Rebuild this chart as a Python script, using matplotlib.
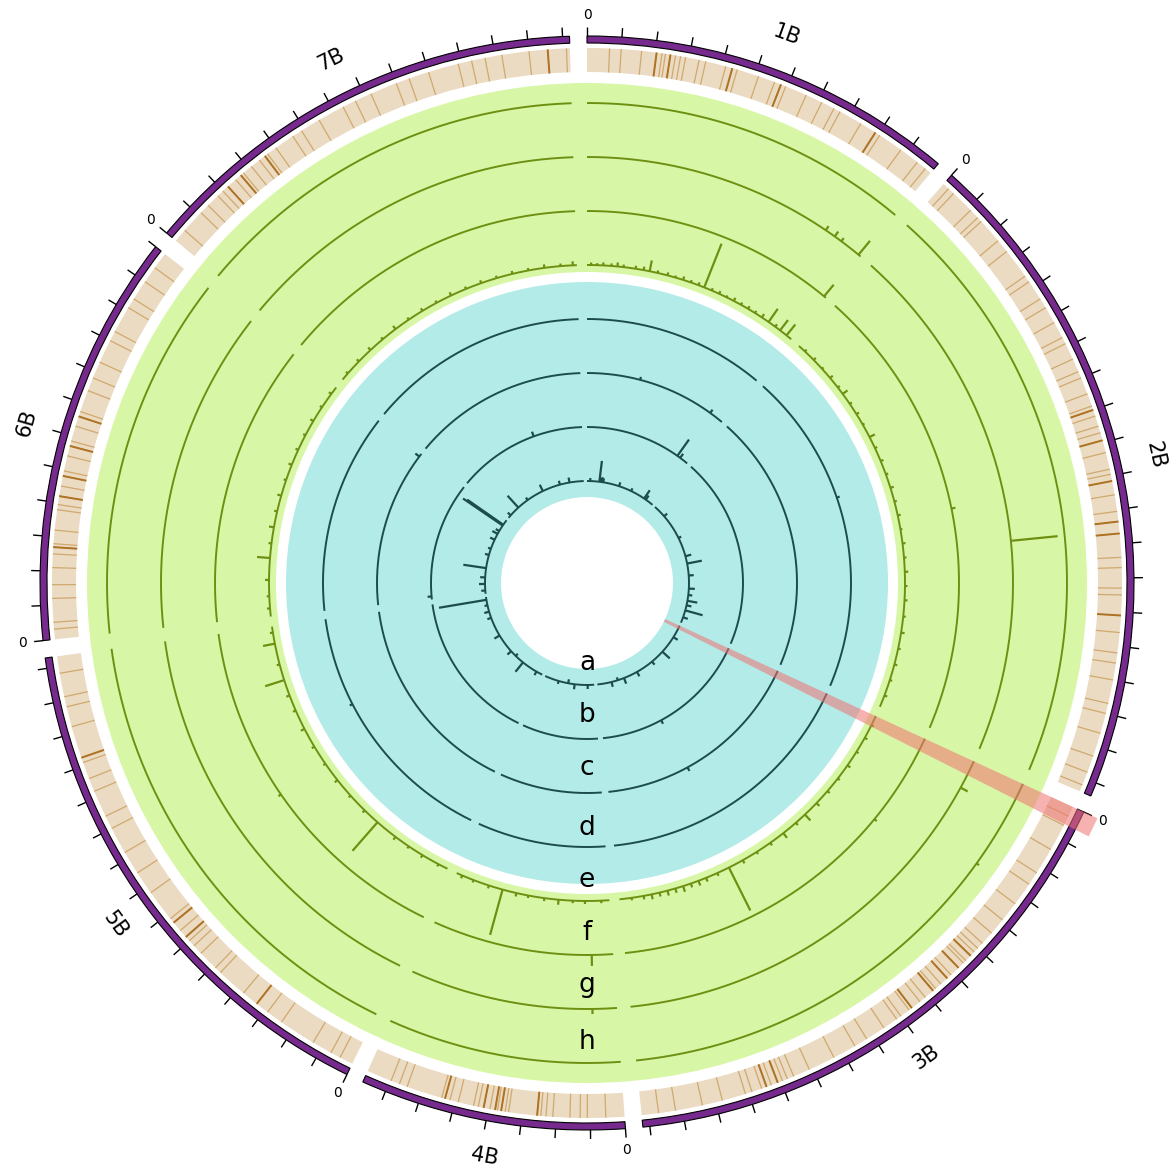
import numpy as np
import matplotlib
matplotlib.use('Agg')
import matplotlib.pyplot as plt

# chromosomes (map length, cM) drawn clockwise from the top
chroms = ['1B', '2B', '3B', '4B', '5B', '6B', '7B']
lengths = [109, 194, 162, 77, 153, 120, 132]
GAP = 5

# marker positions shown in the outer (tan) heat band
band_marks = {
    '1B': [6.6, 10, 16, 20.4, 22, 23, 24.5, 26, 27.5, 29, 33, 35, 41, 43, 44.5, 51,
           56, 58, 59.5, 66, 71, 75, 77, 84, 89, 90.5, 98, 104, 107],
    '2B': [2, 4, 11, 14, 15.5, 23, 27, 36, 38, 44, 47, 52, 57, 59, 64, 68, 70, 75,
           78.8, 80, 81.9, 85, 87, 89.3, 93, 98, 99.5, 101.5, 105.6, 110.5, 113.5,
           117, 124, 127, 133, 135, 141, 146, 152, 155, 160, 167, 170, 176, 183, 188, 192],
    '3B': [3, 6, 14, 22, 26, 33, 39, 44, 48, 50, 51.5, 53, 55, 56, 58, 61, 62.5, 65,
           67, 68, 71, 73, 76, 77, 80, 81.5, 86, 92, 96, 103, 111, 116, 118, 119.5,
           121, 123, 124.5, 126, 129, 131, 138, 144, 152, 157],
    '4B': [5.5, 10.9, 13, 16, 21, 23, 24.5, 25.6, 34, 35, 36.2, 37.3, 38, 39.5, 41.4,
           43, 44.4, 49, 51.5, 53, 54, 64.6, 67, 69.6],
    '5B': [4, 7, 13, 24, 29, 33, 38, 47, 49, 55, 58, 60, 61.5, 64, 67, 68.5, 78, 85,
           92, 100, 104, 112, 116, 121, 122.5, 132, 138, 141, 148],
    '6B': [3, 5, 12, 16, 21, 25, 27, 28, 32, 38, 39.5, 42, 45, 48, 49.5, 54, 57, 58.5,
           63, 66, 67.5, 74, 78, 83, 90, 93, 101, 104, 110, 115],
    '7B': [4, 11, 14, 18, 20, 22, 25, 27, 28, 31, 34, 36, 37, 40, 46, 49, 55, 63, 67,
           72, 80, 84, 90, 99, 103, 107, 112, 120, 125.5, 131],
}
band_strong = {
    '1B': [20.4, 24.5, 43, 58, 89],
    '2B': [80, 89.3, 101.5, 113.5, 117, 141],
    '3B': [53, 58, 62.5, 68, 76, 121, 124.5],
    '4B': [25.6, 36.2, 38, 41.4, 53],
    '5B': [33, 61.5, 67, 122.5],
    '6B': [27, 42, 48, 57, 66],
    '7B': [22, 27, 36, 125.5],
}

# track values (chromosome, position, score 0-1); a-d inner blue, e-h outer green
track_a = [('1B', 5, 0.06), ('1B', 19, 0.42), ('1B', 21, 0.08), ('1B', 23, 0.1), ('1B', 25, 0.08),
           ('1B', 50, 0.08), ('1B', 70, 0.06), ('1B', 93, 0.2), ('1B', 96, 0.1),
           ('2B', 20, 0.08), ('2B', 60, 0.06), ('2B', 90, 0.12), ('2B', 101.5, 0.3),
           ('2B', 120, 0.1), ('2B', 140, 0.12), ('2B', 150, 0.08), ('2B', 159, 0.2),
           ('2B', 166, 0.1), ('2B', 174, 0.36), ('2B', 185, 0.1),
           ('3B', 20, 0.1), ('3B', 48, 0.2), ('3B', 70, 0.08), ('3B', 98, 0.1),
           ('3B', 120, 0.12), ('3B', 130, -0.06), ('3B', 140, 0.1),
           ('4B', 10, 0.08), ('4B', 30, 0.1), ('4B', 40, -0.08), ('4B', 55, 0.06),
           ('5B', 10, 0.08), ('5B', 35, 0.24), ('5B', 50, -0.06), ('5B', 60, 0.1),
           ('5B', 90, 0.12), ('5B', 120, 0.08), ('5B', 130, 0.1), ('5B', 140, 0.06),
           ('5B', 148.6, 0.96),
           ('6B', 5, 0.08), ('6B', 15, 0.12), ('6B', 25, 0.1), ('6B', 39.4, 0.46),
           ('6B', 60, 0.08), ('6B', 70, 0.06), ('6B', 85, 0.1), ('6B', 95, 0.12),
           ('6B', 100, 0.08), ('6B', 110, 0.96), ('6B', 111.5, 0.88),
           ('7B', 5, 0.08), ('7B', 21.6, 0.32), ('7B', 40, 0.06), ('7B', 67, 0.14),
           ('7B', 95, 0.08), ('7B', 110, 0.1)]
track_b = [('1B', 96.6, 0.4), ('1B', 100, 0.1), ('3B', 100.6, 0.08), ('6B', 3, 0.08),
           ('7B', 82.5, 0.1)]
track_c = [('1B', 40, 0.06), ('1B', 98, 0.08), ('3B', 100, 0.08), ('6B', 117.5, 0.1)]
track_d = [('2B', 80, 0.06), ('5B', 100, 0.06)]
track_e = [('1B', 2, 0.05), ('1B', 5, 0.04), ('1B', 8, 0.06), ('1B', 12, 0.05), ('1B', 15, 0.08),
           ('1B', 18, 0.05), ('1B', 24, 0.06), ('1B', 28, 0.07), ('1B', 31, 0.22),
           ('1B', 35, 0.05), ('1B', 40, 0.06), ('1B', 44, 0.04), ('1B', 48, 0.07),
           ('1B', 52, 0.05), ('1B', 56, 0.06), ('1B', 59, 0.94), ('1B', 63, 0.05),
           ('1B', 67, 0.06), ('1B', 71, 0.04), ('1B', 75, 0.07), ('1B', 79, 0.05),
           ('1B', 83, 0.06), ('1B', 87, 0.05), ('1B', 91, 0.08), ('1B', 95, 0.32),
           ('1B', 99, 0.06), ('1B', 102, 0.26), ('1B', 106, 0.28),
           ('2B', 4, 0.05), ('2B', 10, 0.06), ('2B', 16, 0.04), ('2B', 22, 0.07),
           ('2B', 28, 0.05), ('2B', 32, 0.12), ('2B', 38, 0.05), ('2B', 44, 0.06),
           ('2B', 50, 0.04), ('2B', 57, 0.12), ('2B', 63, 0.05), ('2B', 70, 0.06),
           ('2B', 77, 0.05), ('2B', 84, 0.07), ('2B', 91, 0.05), ('2B', 98, 0.06),
           ('2B', 105, 0.04), ('2B', 112, 0.06), ('2B', 119, 0.05), ('2B', 126, 0.07),
           ('2B', 133, 0.05), ('2B', 140, 0.06), ('2B', 148, 0.05), ('2B', 156, 0.07),
           ('2B', 164, 0.05), ('2B', 172, 0.06), ('2B', 180, 0.05), ('2B', 188, 0.06),
           ('3B', 5, 0.05), ('3B', 12, 0.06), ('3B', 20, 0.05), ('3B', 28, 0.07),
           ('3B', 36, 0.05), ('3B', 44, 0.06), ('3B', 52, 0.08), ('3B', 60, 0.16),
           ('3B', 66, 0.06), ('3B', 74, 0.12), ('3B', 82, 0.06), ('3B', 90, 0.05),
           ('3B', 98, 0.07), ('3B', 105.7, 0.96), ('3B', 112, 0.06), ('3B', 118, 0.08),
           ('3B', 122, 0.1), ('3B', 126, 0.08), ('3B', 130, 0.12), ('3B', 134, 0.09),
           ('3B', 138, 0.1), ('3B', 142, 0.08), ('3B', 146, 0.1), ('3B', 150, 0.07),
           ('3B', 156, 0.05),
           ('4B', 4, 0.05), ('4B', 12, 0.06), ('4B', 18, 0.05), ('4B', 25, 0.1),
           ('4B', 32, 0.06), ('4B', 40, 0.05), ('4B', 46, 0.07), ('4B', 53, 0.94),
           ('4B', 60, 0.06), ('4B', 68, 0.05), ('4B', 74, 0.06),
           ('5B', 5, 0.05), ('5B', 14, 0.06), ('5B', 22, 0.05), ('5B', 30, 0.07),
           ('5B', 41.4, 0.76), ('5B', 50, 0.06), ('5B', 60, 0.05), ('5B', 70, 0.07),
           ('5B', 80, 0.05), ('5B', 90, 0.06), ('5B', 100, 0.08), ('5B', 110, 0.06),
           ('5B', 118, 0.07), ('5B', 126, 0.4), ('5B', 134, 0.06), ('5B', 144.5, 0.24),
           ('5B', 150, 0.06),
           ('6B', 4, 0.06), ('6B', 10, 0.05), ('6B', 18, 0.08), ('6B', 28.8, 0.26),
           ('6B', 36, 0.06), ('6B', 44, 0.1), ('6B', 52, 0.06), ('6B', 60, 0.08),
           ('6B', 68, 0.05), ('6B', 76, 0.07), ('6B', 84, 0.06), ('6B', 92, 0.05),
           ('6B', 100, 0.07), ('6B', 108, 0.05), ('6B', 116, 0.06),
           ('7B', 4, 0.05), ('7B', 12, 0.06), ('7B', 20, 0.07), ('7B', 28, 0.05),
           ('7B', 36, 0.08), ('7B', 44, 0.05), ('7B', 52, 0.06), ('7B', 60, 0.05),
           ('7B', 68, 0.07), ('7B', 76, 0.05), ('7B', 84, 0.06), ('7B', 92, 0.05),
           ('7B', 100, 0.06), ('7B', 108, 0.05), ('7B', 116, 0.07), ('7B', 124, 0.05),
           ('7B', 130, 0.08)]
track_f = [('1B', 108, 0.3), ('2B', 100, 0.08), ('3B', 40, 0.06), ('4B', 9, 0.22),
           ('5B', 80, 0.06)]
track_g = [('1B', 93, 0.1), ('1B', 97, 0.12), ('1B', 100, 0.08), ('1B', 108, 0.36),
           ('2B', 116, 0.94), ('3B', 10.8, 0.16), ('4B', 9, 0.1)]
track_h = [('3B', 30, 0.06)]
track_labels = ['a', 'b', 'c', 'd', 'e', 'f', 'g', 'h']
label_radius = [80, 132, 185, 245, 297, 350, 402, 459]

# highlighted region (start of 3B)
highlight = ('3B', 0.0, 5.6)

total = sum(lengths) + GAP * len(chroms)
offsets = {}
acc = 0
for c, L in zip(chroms, lengths):
    offsets[c] = acc
    acc += L + GAP


def ang(c, pos):
    return (offsets[c] + pos) / total * 2 * np.pi


fig = plt.figure(figsize=(11.74, 11.69), dpi=100)
ax = fig.add_axes([0, -1 / 1169, 1, 1174 / 1169], projection='polar')
ax.set_theta_zero_location('N')
ax.set_theta_direction(-1)
ax.set_ylim(0, 587)
ax.set_axis_off()

# background rings
ax.bar(0, 189, width=2 * np.pi, bottom=311, color='#d8f7a6', linewidth=0)
ax.bar(0, 215, width=2 * np.pi, bottom=86, color='#b3ebe8', linewidth=0)

# ideogram + tan band + ticks
for c, L in zip(chroms, lengths):
    t0, t1 = ang(c, 0), ang(c, L)
    ax.bar((t0 + t1) / 2, 7, width=t1 - t0, bottom=540, color='#772a8e',
           edgecolor='black', linewidth=0.8)
    ax.bar((t0 + t1) / 2, 24, width=t1 - t0, bottom=511, color='#ebdbc2', linewidth=0)
    marks = [ang(c, p) for p in band_marks[c]]
    ax.vlines(marks, 511, 535, color='#cfa96f', linewidth=0.9)
    strong = [ang(c, p) for p in band_strong[c]]
    ax.vlines(strong, 511, 535, color='#ad7223', linewidth=1.4)
    ticks = [ang(c, p) for p in range(0, L + 1, 10)]
    ax.vlines(ticks, 547, 556, color='black', linewidth=1.0)
    ax.text(t0, 568, '0', ha='center', va='center', fontsize=10)
    mid = np.degrees((t0 + t1) / 2)
    rot = 180 - mid if 90 < mid < 270 else -mid
    ax.text(np.radians(mid), 583, c, ha='center', va='center', fontsize=15,
            rotation=rot, rotation_mode='anchor')

# tracks
tracks = [track_a, track_b, track_c, track_d, track_e, track_f, track_g, track_h]
bases = [102, 156, 210, 264, 318, 372, 426, 480]
for i, (tr, r0) in enumerate(zip(tracks, bases)):
    col = '#1c4c4e' if i < 4 else '#6e9012'
    for c, L in zip(chroms, lengths):
        th = np.linspace(ang(c, 0), ang(c, L), 300)
        ax.plot(th, np.full_like(th, r0), color=col, linewidth=1.4,
                solid_capstyle='butt')
    th = [ang(c, p) for c, p, v in tr]
    top = [r0 + v * 50 for c, p, v in tr]
    ax.vlines(th, r0, top, color=col, linewidth=1.6)
    ax.text(np.pi, label_radius[i], track_labels[i], ha='center', va='center',
            fontsize=19, zorder=12)

# highlight wedge
hc, h0, h1 = highlight
ax.bar((ang(hc, h0) + ang(hc, h1)) / 2, 476, width=ang(hc, h1) - ang(hc, h0),
       bottom=86, color='#f07272', alpha=0.55, linewidth=0, zorder=10)

fig.savefig('out.png', dpi=100)
